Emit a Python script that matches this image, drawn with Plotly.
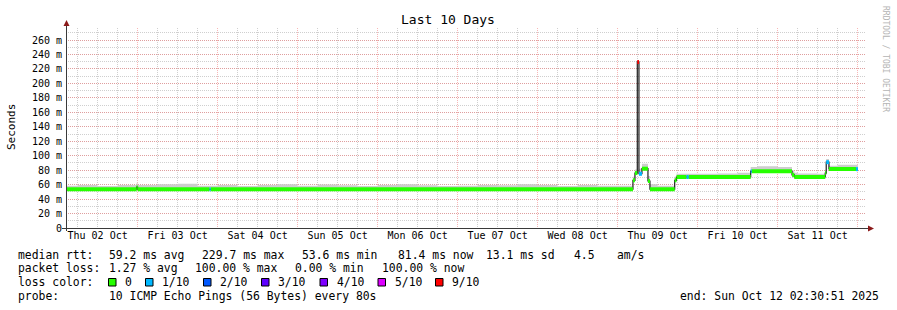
import plotly.graph_objects as go
import pandas as pd

# ---------------- data ----------------
TITLE = "Last 10 Days"
Y_LABEL = "Seconds"
WATERMARK = "RRDTOOL / TOBI OETIKER"

x_start = "2025-10-02 02:30:51"
x_end = "2025-10-12 02:30:51"

y_tick_values = [0, 20, 40, 60, 80, 100, 120, 140, 160, 180, 200, 220, 240, 260]
y_tick_labels = ["0", "20 m", "40 m", "60 m", "80 m", "100 m", "120 m", "140 m",
                 "160 m", "180 m", "200 m", "220 m", "240 m", "260 m"]

# median RTT as piecewise-constant steps (start of each step), ms, and pings lost of 10
step_start = [
    "2025-10-02 02:30", "2025-10-02 23:42", "2025-10-03 00:00", "2025-10-03 21:36",
    "2025-10-03 21:54", "2025-10-09 04:36", "2025-10-09 05:12", "2025-10-09 05:54",
    "2025-10-09 06:24", "2025-10-09 07:18", "2025-10-09 09:06", "2025-10-09 09:42",
    "2025-10-09 17:07", "2025-10-09 17:40", "2025-10-09 20:42", "2025-10-09 21:18",
    "2025-10-10 15:55", "2025-10-10 16:13", "2025-10-11 04:19", "2025-10-11 05:00",
    "2025-10-11 14:17", "2025-10-11 14:35", "2025-10-11 15:24", "2025-10-11 23:30",
]
median_ms = [53.6, 56.5, 53.6, 53.6, 53.6, 66.0, 76.0, 229.7, 75.0, 82.0, 65.0, 53.6,
             66.0, 70.5, 70.5, 70.5, 78.4, 78.4, 73.5, 70.5, 76.0, 91.0, 81.6, 81.4]
loss_of_10 = [0, 0, 0, 1, 0, 0, 0, 9, 1, 0, 0, 0, 0, 0, 1, 0, 1, 0, 0, 0, 0, 1, 0, 1]
data_end = "2025-10-12 00:06"

# smoke: spread of the upper pings above the median, 6-hour bins from smoke_bin_start
smoke_bin_start = "2025-10-02 00:00"
smoke_spread_ms = [5, 6, 4.5, 6,
                   6, 7, 7.5, 5,
                   6, 4.5, 6, 7,
                   5, 6.5, 5.5, 4.5,
                   6, 7, 5.5, 4.5,
                   5, 6, 5.5, 7,
                   6, 4.5, 6, 5,
                   5, 7, 5, 4.5,
                   4.5, 5, 6, 7,
                   6, 5, 4.5, 6,
                   5]

loss_labels = ["0", "1/10", "2/10", "3/10", "4/10", "5/10", "9/10"]
loss_levels = [0, 1, 2, 3, 4, 5, 9]
loss_colors = ["#26ff00", "#00b8ff", "#0059ff", "#5e00ff", "#7e00ff", "#dd00ff", "#ff0000"]

median_stats = ["59.2 ms avg", "229.7 ms max", "53.6 ms min", "81.4 ms now",
                "13.1 ms sd", "4.5", "am/s"]
loss_stats = ["1.27 % avg", "100.00 % max", "0.00 % min", "100.00 % now"]
probe_text = "10 ICMP Echo Pings (56 Bytes) every 80s"
end_text = "end: Sun Oct 12 02:30:51 2025"

# ---------------- layout geometry (pixels) ----------------
W, H = 897, 310
L, T, PW, PH = 66, 28, 800, 200
B = H - T - PH
R = W - L - PW
MONO = "DejaVu Sans Mono"


def px(x):
    return (x - L) / PW


def py(y):
    return (T + PH - y) / PH


color_of = dict(zip(loss_levels, loss_colors))

# ---------------- traces ----------------
times = list(pd.to_datetime(step_start)) + [pd.Timestamp(data_end)]
bin0 = pd.Timestamp(smoke_bin_start)
six = pd.Timedelta(hours=6)
edges = [bin0 + six * k for k in range(len(smoke_spread_ms) + 1)]
breaks = sorted(set(times) | {e for e in edges if times[0] < e < times[-1]})

sx, s_lo, s_hi = [], [], []
for a in breaks[:-1]:
    i = max(j for j in range(len(step_start)) if times[j] <= a)
    k = int((a - bin0) / six)
    m = median_ms[i]
    spread = 0 if loss_of_10[i] >= 5 else smoke_spread_ms[k]
    sx.append(a)
    s_lo.append(m - 2.5 if spread else m)
    s_hi.append(m + spread)
sx.append(breaks[-1])
s_lo.append(s_lo[-1])
s_hi.append(s_hi[-1])

fig = go.Figure()
fig.add_trace(go.Scatter(x=sx, y=s_lo, mode="lines", line=dict(width=0, shape="hv"),
                         hoverinfo="skip", showlegend=False))
fig.add_trace(go.Scatter(x=sx, y=s_hi, mode="lines", line=dict(width=0, shape="hv"),
                         fill="tonexty", fillcolor="#cdcdcd", hoverinfo="skip",
                         showlegend=False))

# thin dark median line (shows the vertical transitions)
fig.add_trace(go.Scatter(x=times, y=median_ms + [median_ms[-1]], mode="lines",
                         line=dict(color="#1e1e1e", width=1.2, shape="hv"),
                         hoverinfo="skip", showlegend=False))

# thick colored median segments by loss
for lvl in loss_levels:
    xs, ys = [], []
    for i in range(len(step_start)):
        if loss_of_10[i] == lvl:
            xs += [times[i], times[i + 1], None]
            ys += [median_ms[i], median_ms[i], None]
    if xs:
        fig.add_trace(go.Scatter(x=xs, y=ys, mode="lines",
                                 line=dict(color=color_of[lvl], width=4),
                                 hoverinfo="skip", showlegend=False))

# ---------------- axes ----------------
MAJ = "rgba(240,110,110,0.5)"
MIN = "#cfcfcf"
DASH = "1px,1px"

fig.update_xaxes(
    type="date", range=[x_start, x_end],
    tick0="2025-10-02 00:00", dtick=86400000, tickformat="%a %d %b",
    ticklabelmode="period", ticks="", showline=False, zeroline=False,
    showgrid=True, gridcolor=MAJ, griddash=DASH, gridwidth=1,
    tickfont=dict(family=MONO, size=10, color="#000"),
    minor=dict(dtick=6 * 3600000, tick0="2025-10-02 00:00", showgrid=True,
               gridcolor=MIN, griddash=DASH, gridwidth=1, ticks=""),
)
fig.update_yaxes(
    range=[0, 276.6], tickmode="array", tickvals=y_tick_values, ticktext=y_tick_labels,
    ticks="", showline=False, zeroline=False,
    showgrid=True, gridcolor=MAJ, griddash=DASH, gridwidth=1,
    tickfont=dict(family=MONO, size=10, color="#000"), ticklabelstandoff=3,
    minor=dict(tickmode="linear", tick0=0, dtick=10, showgrid=True,
               gridcolor=MIN, griddash=DASH, gridwidth=1, ticks=""),
)

shapes = []
AX = "#3a3a3a"
ARROW = "#8b1a1a"
# axis lines
shapes.append(dict(type="line", xref="paper", yref="paper", x0=px(62), x1=px(869),
                   y0=py(228.5), y1=py(228.5), line=dict(color=AX, width=1)))
shapes.append(dict(type="line", xref="paper", yref="paper", x0=px(66.5), x1=px(66.5),
                   y0=py(231), y1=py(24), line=dict(color=AX, width=1)))
# arrows
shapes.append(dict(type="path", xref="paper", yref="paper",
                   path=f"M {px(63.5)},{py(26)} L {px(69.5)},{py(26)} L {px(66.5)},{py(20)} Z",
                   fillcolor=ARROW, line=dict(color=ARROW, width=0)))
shapes.append(dict(type="path", xref="paper", yref="paper",
                   path=f"M {px(868)},{py(225.5)} L {px(868)},{py(231.5)} L {px(874)},{py(228.5)} Z",
                   fillcolor=ARROW, line=dict(color=ARROW, width=0)))

annotations = []


def text(s, x, y, size=11.4, anchor="left", color="#000", angle=0):
    annotations.append(dict(text=s, x=px(x), y=py(y), xref="paper", yref="paper",
                            xanchor=anchor, yanchor="middle", showarrow=False,
                            textangle=angle,
                            font=dict(family=MONO, size=size, color=color)))


text(TITLE, 448, 19, size=13, anchor="center")
text(Y_LABEL, 11, 127, size=11, anchor="center", angle=-90)
text(WATERMARK, 886, 59, size=8, anchor="center", color="#b4b4b4", angle=90)

# legend row 1
row1_x = [107, 200, 300, 396, 484, 572, 615]
text("median rtt:", 16, 255)
for s, x in zip(median_stats, row1_x):
    text(s, x, 255)
# legend row 2
row2_x = [107, 193, 293, 380]
text("packet loss:", 16, 268)
for s, x in zip(loss_stats, row2_x):
    text(s, x, 268)
# legend row 3
text("loss color:", 16, 282)
sq_x = [108.5, 145.5, 203.5, 261.5, 320, 378, 435.5]
for lab, col, x in zip(loss_labels, loss_colors, sq_x):
    shapes.append(dict(type="rect", xref="paper", yref="paper",
                       x0=px(x), x1=px(x + 7.5), y0=py(278.5), y1=py(286),
                       fillcolor=col, line=dict(color="#000", width=1)))
    text(lab, x + 14.5, 282)
# legend row 4
text("probe:", 16, 296)
text(probe_text, 107, 296)
text(end_text, 881, 296, anchor="right")

fig.update_layout(
    width=W, height=H,
    margin=dict(l=L, r=R, t=T, b=B, pad=0),
    paper_bgcolor="#ffffff", plot_bgcolor="#ffffff",
    showlegend=False, shapes=shapes, annotations=annotations,
    font=dict(family=MONO, color="#000"),
)

fig.write_html("out.html")
